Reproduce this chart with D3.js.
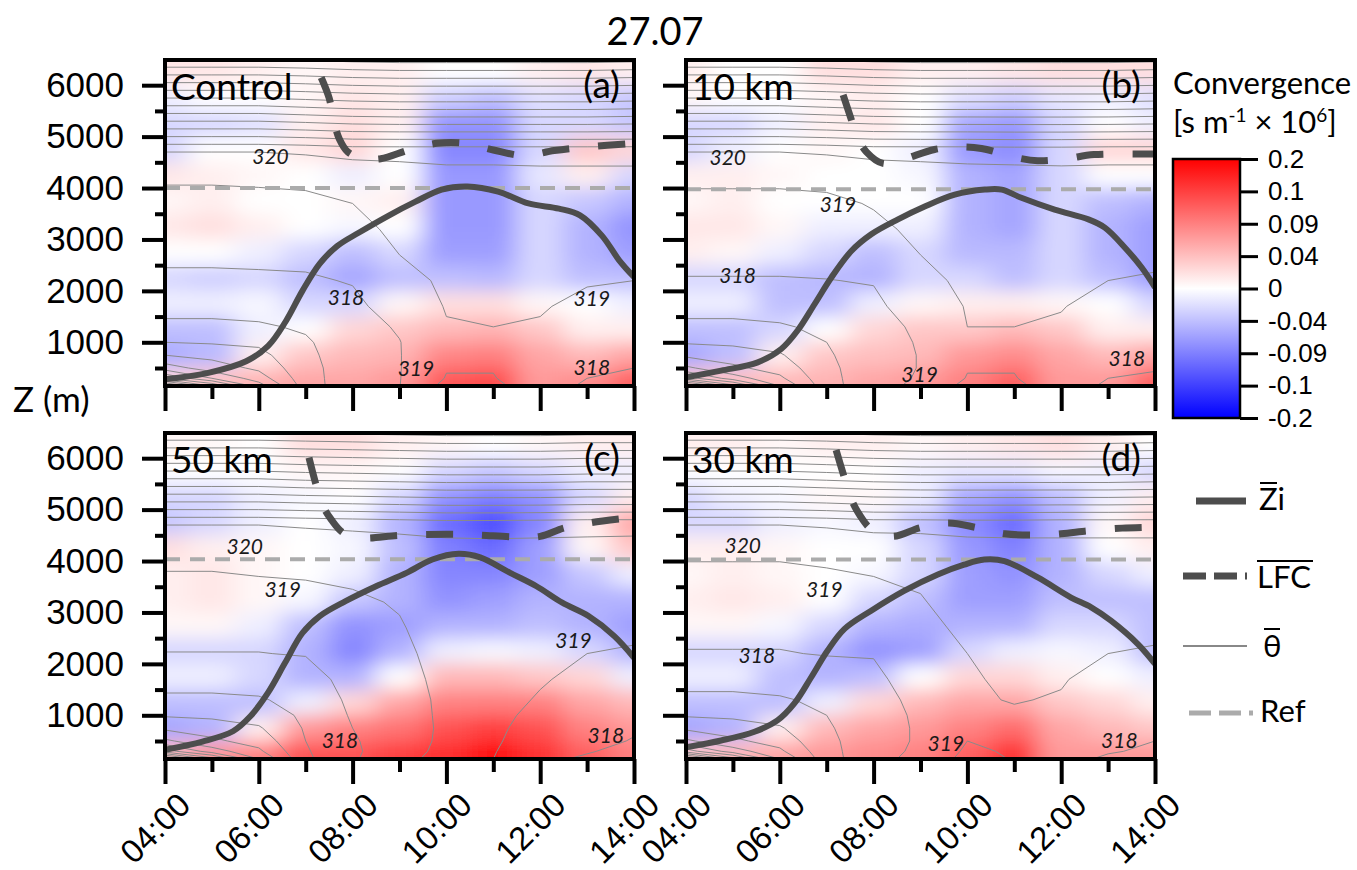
<!DOCTYPE html>
<html>
<head>
<meta charset="utf-8">
<script src="https://cdn.jsdelivr.net/npm/d3@7"></script>
<style>
  body { margin: 0; background: #fff; }
  svg { display: block; }
</style>
</head>
<body>
<svg id="chart" width="1357" height="870"></svg>
<script>
// ---- data ----
const hours = [4, 5, 6, 7, 8, 9, 10, 11, 12, 13, 14];
const xTickHours = [4, 6, 8, 10, 12, 14];
const xMinorHours = [5, 7, 9, 11, 13];
const yMajor = [1000, 2000, 3000, 4000, 5000, 6000];
const yMinor = [500, 1500, 2500, 3500, 4500, 5500];
const zRange = [150, 6490];

const cbarTicks = [-0.2, -0.1, -0.09, -0.04, 0, 0.04, 0.09, 0.1, 0.2];
const cbarLabels = ["-0.2", "-0.1", "-0.09", "-0.04", "0", "0.04", "0.09", "0.1", "0.2"];

const panelNames = ["Control", "10 km", "50 km", "30 km"];
const panelTags = ["(a)", "(b)", "(c)", "(d)"];
const refLevels = [4000, 3975, 4035, 4030];

// convergence, rows = heights (top to bottom), columns = hours
const convHeights = [6250, 5750, 5250, 4750, 4250, 3750, 3250, 2750, 2250, 1750, 1250, 750, 250];
const convControl = [
  [0.015, 0.015, 0.01, 0.005, 0.01, 0.01, 0, 0, 0.01, 0.015, 0.01],
  [-0.01, 0, 0, 0.005, 0.015, 0.01, -0.03, -0.04, -0.02, -0.025, -0.035],
  [-0.025, -0.025, -0.02, 0.01, 0.02, 0.01, -0.075, -0.075, -0.025, -0.025, -0.035],
  [-0.025, 0, 0, 0.015, 0.025, 0, -0.085, -0.085, -0.025, 0.035, 0.025],
  [0.015, 0.01, 0.005, 0, -0.01, 0, -0.07, -0.07, -0.015, 0.01, -0.025],
  [0.005, 0.01, 0, 0, 0.005, 0.01, -0.07, -0.07, -0.025, -0.035, -0.05],
  [0.015, 0.02, 0.01, 0, -0.005, 0, -0.07, -0.07, -0.025, -0.05, -0.075],
  [0, 0, -0.01, -0.025, -0.04, -0.025, -0.065, -0.065, -0.025, -0.05, -0.065],
  [-0.025, -0.03, -0.025, -0.04, -0.06, -0.04, -0.04, -0.045, -0.025, -0.04, -0.04],
  [-0.01, -0.01, -0.005, -0.025, -0.025, 0.005, 0.02, 0.02, 0.005, 0, -0.01],
  [-0.04, -0.04, -0.01, 0, 0.025, 0.035, 0.045, 0.05, 0.035, 0.01, 0.01],
  [-0.055, -0.045, 0.01, 0.035, 0.045, 0.05, 0.085, 0.09, 0.06, 0.045, 0.06],
  [0.025, 0.035, 0.05, 0.06, 0.06, 0.07, 0.096, 0.098, 0.07, 0.08, 0.095]
];
const convTen = [
  [0.01, 0, 0, 0.02, 0.02, 0.01, 0.01, 0.015, 0.02, 0.02, 0.02],
  [0.005, 0, 0, 0.005, 0.01, 0, -0.02, -0.03, -0.015, -0.01, -0.02],
  [-0.025, -0.025, -0.01, 0.01, 0.015, 0, -0.06, -0.07, -0.025, 0, -0.01],
  [-0.025, -0.01, 0, 0.005, 0, -0.01, -0.07, -0.08, -0.025, 0.025, 0.025],
  [0.01, 0.01, 0.005, 0, 0, -0.005, -0.05, -0.06, -0.025, 0, 0],
  [0.005, 0.01, 0, 0, 0, 0, -0.05, -0.06, -0.025, -0.04, -0.05],
  [0.015, 0.015, 0.005, -0.01, -0.01, -0.01, -0.05, -0.06, -0.025, -0.05, -0.065],
  [0.01, 0.005, -0.01, -0.025, -0.04, -0.025, -0.045, -0.045, -0.025, -0.05, -0.065],
  [-0.025, -0.025, -0.04, -0.045, -0.05, -0.025, -0.025, -0.04, -0.025, -0.04, -0.065],
  [-0.01, -0.01, -0.04, -0.04, -0.01, 0.005, 0.01, 0.01, 0.005, 0, -0.025],
  [-0.04, -0.04, -0.025, 0, 0.025, 0.035, 0.035, 0.045, 0.035, 0.01, 0.01],
  [-0.06, -0.04, 0.01, 0.035, 0.04, 0.045, 0.07, 0.08, 0.06, 0.045, 0.06],
  [0.035, 0.04, 0.045, 0.05, 0.06, 0.07, 0.09, 0.095, 0.07, 0.07, 0.095]
];
const convFifty = [
  [0.005, 0.005, 0, 0.02, 0.02, 0.01, 0.005, 0, 0.005, 0.01, 0.01],
  [0, 0, 0, 0.005, 0.005, 0, -0.025, -0.035, -0.025, -0.01, -0.01],
  [-0.025, -0.025, -0.01, -0.005, 0, -0.025, -0.075, -0.09, -0.075, -0.025, 0.01],
  [-0.035, -0.025, -0.01, 0, -0.01, -0.05, -0.093, -0.098, -0.085, 0.01, 0.06],
  [0.02, 0.01, 0.005, 0, -0.005, -0.04, -0.09, -0.093, -0.065, 0.005, 0.035],
  [0.01, 0.015, 0.005, 0, -0.01, -0.05, -0.085, -0.085, -0.065, -0.035, -0.01],
  [0.01, 0.015, 0.005, -0.005, -0.035, -0.05, -0.075, -0.065, -0.05, -0.05, -0.05],
  [0.005, 0.005, -0.01, -0.04, -0.075, -0.065, -0.05, -0.05, -0.04, -0.05, -0.065],
  [-0.025, -0.025, -0.025, -0.05, -0.085, -0.05, -0.01, -0.005, -0.01, -0.025, -0.05],
  [-0.01, -0.01, -0.025, -0.05, -0.05, 0, 0.045, 0.045, 0.035, 0.025, -0.01],
  [-0.04, -0.04, -0.04, -0.01, 0.025, 0.06, 0.088, 0.09, 0.088, 0.06, 0.045],
  [-0.06, -0.05, 0.01, 0.07, 0.088, 0.092, 0.097, 0.1, 0.097, 0.088, 0.07],
  [0.045, 0.07, 0.088, 0.097, 0.097, 0.1, 0.13, 0.18, 0.12, 0.095, 0.09]
];
const convThirty = [
  [0.01, 0.01, 0.005, 0.01, 0.01, 0.005, 0.01, 0.015, 0.02, 0.01, 0],
  [0, 0, 0, 0, 0, -0.01, -0.015, -0.015, -0.005, -0.01, -0.025],
  [-0.025, -0.01, -0.005, 0.005, 0.005, -0.01, -0.06, -0.075, -0.04, -0.01, 0.01],
  [-0.025, -0.025, -0.01, -0.005, -0.01, -0.04, -0.08, -0.093, -0.05, 0.005, 0.025],
  [0.01, 0.01, 0.005, 0, 0, -0.025, -0.07, -0.088, -0.05, 0, 0.01],
  [0.005, 0.01, 0.005, 0, -0.005, -0.025, -0.065, -0.075, -0.05, -0.025, -0.01],
  [0.01, 0.015, 0.01, 0, -0.025, -0.04, -0.065, -0.065, -0.04, -0.04, -0.04],
  [0.005, 0.005, -0.005, -0.025, -0.05, -0.055, -0.05, -0.05, -0.025, -0.025, -0.04],
  [-0.025, -0.025, -0.025, -0.05, -0.075, -0.065, -0.025, -0.01, -0.005, -0.01, -0.04],
  [-0.01, -0.01, -0.04, -0.05, -0.04, 0, 0.025, 0.025, 0.01, 0, -0.01],
  [-0.04, -0.04, -0.04, -0.01, 0.025, 0.045, 0.06, 0.06, 0.035, 0.025, 0.01],
  [-0.06, -0.05, 0.01, 0.045, 0.06, 0.07, 0.088, 0.093, 0.06, 0.045, 0.035],
  [0.035, 0.045, 0.06, 0.07, 0.08, 0.088, 0.095, 0.12, 0.07, 0.07, 0.07]
];

// potential temperature (K), rows = heights (top to bottom), columns = hours
const thetaHeights = [6500, 5600, 4700, 4200, 3700, 3200, 2700, 2200, 1700, 1300, 1000, 750, 500, 300, 150];
const thetaLevels = [305, 306, 307, 308, 309, 310, 311, 312, 313, 314, 315, 316, 317, 318, 319, 320,
  321, 322, 323, 324, 325, 326, 327, 328, 329, 330, 331, 332, 333, 334];
const thetaControl = [
  [332.0, 332.0, 332.0, 332.1, 332.3, 332.4, 332.4, 332.4, 332.4, 332.4, 332.3],
  [326.0, 326.0, 326.0, 326.2, 326.4, 326.5, 326.5, 326.5, 326.5, 326.5, 326.4],
  [320.0, 320.0, 320.0, 320.1, 320.3, 320.3, 320.3, 320.3, 320.3, 320.3, 320.3],
  [319.1, 319.1, 319.15, 319.2, 319.3, 319.5, 319.7, 319.7, 319.75, 319.75, 319.75],
  [318.75, 318.75, 318.75, 318.8, 319.0, 319.3, 319.45, 319.45, 319.5, 319.5, 319.45],
  [318.45, 318.45, 318.45, 318.5, 318.8, 319.15, 319.35, 319.35, 319.4, 319.35, 319.3],
  [318.2, 318.2, 318.2, 318.2, 318.5, 319.0, 319.25, 319.25, 319.3, 319.2, 319.15],
  [317.8, 317.8, 317.85, 317.9, 318.05, 318.7, 319.15, 319.15, 319.2, 319.05, 319.0],
  [317.3, 317.3, 317.3, 317.4, 317.8, 318.4, 319.05, 319.05, 319.05, 318.85, 318.75],
  [316.8, 316.8, 316.9, 317.1, 317.6, 318.1, 318.95, 319.0, 318.95, 318.7, 318.55],
  [316.0, 316.1, 316.2, 316.9, 317.5, 317.97, 318.9, 318.95, 318.9, 318.55, 318.4],
  [315.0, 315.3, 315.7, 316.8, 317.5, 317.96, 318.9, 318.92, 318.8, 318.4, 318.2],
  [313.5, 314.5, 315.2, 316.7, 317.5, 317.96, 318.95, 318.95, 318.6, 318.2, 318.0],
  [311.0, 313.0, 314.5, 316.6, 317.6, 317.97, 319.05, 319.05, 318.4, 318.0, 317.9],
  [306.0, 310.0, 313.5, 316.5, 317.7, 317.98, 319.3, 319.3, 318.3, 317.9, 317.8]
];
const thetaTen = [
  [332.0, 332.0, 332.0, 332.1, 332.3, 332.4, 332.4, 332.4, 332.4, 332.4, 332.3],
  [326.0, 326.0, 326.0, 326.2, 326.4, 326.5, 326.5, 326.5, 326.5, 326.5, 326.4],
  [320.0, 320.0, 320.0, 320.1, 320.3, 320.3, 320.3, 320.35, 320.35, 320.3, 320.3],
  [319.15, 319.15, 319.15, 319.2, 319.3, 319.5, 319.65, 319.65, 319.7, 319.7, 319.7],
  [318.8, 318.8, 318.8, 318.85, 319.05, 319.3, 319.45, 319.45, 319.45, 319.45, 319.4],
  [318.5, 318.5, 318.5, 318.6, 318.85, 319.15, 319.35, 319.35, 319.35, 319.3, 319.25],
  [318.25, 318.25, 318.25, 318.3, 318.6, 319.0, 319.25, 319.25, 319.25, 319.15, 319.1],
  [317.95, 317.95, 317.95, 317.98, 318.05, 318.8, 319.15, 319.15, 319.15, 319.0, 318.95],
  [317.3, 317.3, 317.4, 317.5, 317.8, 318.5, 319.05, 319.05, 319.02, 318.85, 318.75],
  [316.8, 316.8, 316.9, 317.2, 317.6, 318.2, 319.0, 319.0, 318.95, 318.7, 318.55],
  [316.1, 316.2, 316.4, 317.0, 317.5, 318.1, 318.9, 318.9, 318.9, 318.55, 318.4],
  [315.2, 315.5, 315.9, 316.9, 317.5, 318.05, 318.9, 318.9, 318.8, 318.4, 318.25],
  [313.8, 314.8, 315.4, 316.8, 317.5, 318.05, 318.95, 318.95, 318.6, 318.2, 318.05],
  [311.5, 313.5, 314.8, 316.7, 317.6, 318.1, 319.05, 319.05, 318.4, 318.0, 317.9],
  [306.5, 310.5, 314.0, 316.6, 317.7, 318.2, 319.3, 319.3, 318.3, 317.9, 317.8]
];
const thetaFifty = [
  [332.0, 332.0, 332.0, 332.1, 332.2, 332.3, 332.4, 332.4, 332.4, 332.3, 332.3],
  [326.0, 326.0, 326.0, 326.2, 326.3, 326.4, 326.5, 326.5, 326.5, 326.4, 326.4],
  [320.0, 320.0, 320.0, 320.1, 320.2, 320.3, 320.4, 320.4, 320.35, 320.3, 320.3],
  [319.2, 319.2, 319.25, 319.3, 319.35, 319.45, 319.6, 319.65, 319.65, 319.65, 319.6],
  [318.95, 318.95, 319.0, 319.05, 319.1, 319.2, 319.45, 319.5, 319.45, 319.45, 319.4],
  [318.6, 318.6, 318.6, 318.7, 318.9, 319.05, 319.35, 319.4, 319.35, 319.3, 319.25],
  [318.3, 318.3, 318.3, 318.35, 318.7, 318.95, 319.3, 319.35, 319.25, 319.15, 319.1],
  [317.98, 317.98, 317.98, 318.05, 318.5, 318.85, 319.25, 319.3, 319.15, 319.0, 318.95],
  [317.4, 317.4, 317.45, 317.6, 318.35, 318.75, 319.2, 319.25, 319.05, 318.85, 318.65],
  [316.8, 316.8, 316.9, 317.35, 318.2, 318.7, 319.15, 319.2, 318.95, 318.75, 318.5],
  [316.1, 316.2, 316.4, 317.2, 318.1, 318.65, 319.15, 319.15, 318.85, 318.6, 318.3],
  [315.2, 315.5, 315.9, 317.1, 318.0, 318.6, 319.15, 319.12, 318.75, 318.45, 318.1],
  [313.8, 314.8, 315.4, 317.0, 317.9, 318.55, 319.2, 319.1, 318.6, 318.25, 317.95],
  [311.5, 313.5, 314.8, 316.9, 317.85, 318.55, 319.3, 319.05, 318.4, 318.05, 317.8],
  [306.5, 310.5, 314.0, 316.8, 317.9, 318.6, 319.5, 319.0, 318.15, 317.9, 317.7]
];
const thetaThirty = [
  [332.0, 332.0, 332.0, 332.1, 332.3, 332.4, 332.4, 332.4, 332.4, 332.4, 332.3],
  [326.0, 326.0, 326.0, 326.2, 326.4, 326.5, 326.5, 326.5, 326.5, 326.5, 326.4],
  [320.0, 320.0, 320.0, 320.1, 320.3, 320.3, 320.35, 320.35, 320.3, 320.3, 320.3],
  [319.15, 319.15, 319.15, 319.2, 319.3, 319.4, 319.6, 319.65, 319.7, 319.7, 319.7],
  [318.8, 318.8, 318.8, 318.9, 319.0, 319.1, 319.4, 319.45, 319.45, 319.45, 319.4],
  [318.5, 318.5, 318.5, 318.6, 318.8, 318.95, 319.3, 319.35, 319.35, 319.3, 319.25],
  [318.25, 318.25, 318.25, 318.3, 318.55, 318.8, 319.15, 319.25, 319.25, 319.15, 319.1],
  [317.95, 317.95, 317.95, 318.05, 318.05, 318.6, 319.0, 319.15, 319.15, 319.0, 318.95],
  [317.3, 317.3, 317.4, 317.5, 317.8, 318.45, 318.97, 319.05, 319.03, 318.85, 318.7],
  [316.8, 316.8, 316.9, 317.2, 317.6, 318.3, 318.95, 319.02, 318.97, 318.7, 318.5],
  [316.1, 316.2, 316.4, 317.0, 317.5, 318.2, 318.9, 318.95, 318.85, 318.55, 318.35],
  [315.2, 315.5, 315.9, 316.9, 317.5, 318.15, 318.9, 318.92, 318.75, 318.4, 318.15],
  [313.8, 314.8, 315.4, 316.8, 317.5, 318.15, 319.0, 318.9, 318.6, 318.2, 318.0],
  [311.5, 313.5, 314.8, 316.7, 317.6, 318.2, 319.15, 318.9, 318.4, 318.05, 317.9],
  [306.5, 310.5, 314.0, 316.6, 317.7, 318.3, 319.3, 318.95, 318.2, 317.9, 317.8]
];

// boundary layer height Zi [hour, m]
const ziControl = [[4, 280], [4.9, 400], [5.73, 630], [6.2, 930], [6.57, 1400], [6.93, 2000], [7.3, 2530],
  [7.67, 2870], [8.13, 3130], [8.78, 3470], [9.33, 3730], [9.9, 3970], [10.45, 4030], [11.1, 3930],
  [11.75, 3700], [12.4, 3600], [12.85, 3470], [13.32, 3070], [13.68, 2600], [14, 2270]];
const ziTen = [[4, 320], [4.75, 450], [5.53, 610], [6.03, 870], [6.38, 1230], [6.74, 1740], [7.1, 2260],
  [7.52, 2770], [7.95, 3100], [8.52, 3390], [9.09, 3640], [9.73, 3870], [10.37, 3970], [10.73, 3970],
  [11.15, 3810], [11.86, 3580], [12.58, 3390], [12.93, 3230], [13.36, 2840], [13.72, 2450], [14, 2070]];
const ziFifty = [[4, 330], [4.8, 490], [5.45, 690], [5.82, 980], [6.19, 1430], [6.56, 2020], [6.93, 2600],
  [7.3, 2930], [7.85, 3220], [8.5, 3510], [9.15, 3770], [9.7, 4030], [10.26, 4140], [10.72, 4070],
  [11.36, 3770], [11.92, 3510], [12.47, 3190], [13.03, 2930], [13.58, 2540], [14, 2120]];
const ziThirty = [[4, 380], [4.75, 510], [5.46, 680], [5.95, 900], [6.31, 1230], [6.67, 1740], [7.02, 2260],
  [7.38, 2680], [7.94, 3030], [8.65, 3420], [9.37, 3740], [9.93, 3930], [10.36, 4030], [10.79, 4000],
  [11.5, 3680], [12.21, 3290], [12.64, 3100], [13.06, 2840], [13.63, 2390], [14, 2000]];

// level of free convection [hour, m]
const lfcControl = [[7.33, 6150], [7.5, 5750], [7.6, 5300], [7.72, 4950], [7.9, 4700], [8.2, 4580], [8.6, 4570],
  [9.2, 4740], [9.8, 4870], [10.4, 4870], [11.0, 4740], [11.65, 4630], [12.3, 4730], [13.0, 4800], [14, 4870]];
const lfcTen = [[7.35, 5810], [7.5, 5400], [7.65, 5000], [7.85, 4700], [8.2, 4480], [8.6, 4550], [9.3, 4750],
  [9.8, 4800], [10.3, 4770], [11.0, 4600], [11.5, 4530], [12.1, 4570], [12.7, 4650], [14, 4660]];
const lfcFifty = [[7.07, 6010], [7.2, 5550], [7.35, 5100], [7.55, 4800], [7.8, 4550], [8.2, 4450], [9.0, 4500],
  [10.0, 4520], [10.6, 4510], [11.5, 4470], [12.0, 4480], [12.5, 4640], [13.1, 4750], [14, 4850]];
const lfcThirty = [[7.2, 6160], [7.35, 5700], [7.5, 5250], [7.7, 4900], [7.95, 4620], [8.4, 4480], [9.0, 4650],
  [9.6, 4740], [10.2, 4650], [10.8, 4530], [11.7, 4510], [12.5, 4580], [13.3, 4640], [14, 4660]];

// contour labels [hour, m, text]
const labelsControl = [[6.25, 4610, "320"], [7.86, 1870, "318"], [13.1, 1850, "319"], [9.35, 480, "319"], [13.1, 500, "318"]];
const labelsTen = [[4.89, 4594, "320"], [7.24, 3677, "319"], [5.1, 2290, "318"], [8.98, 380, "319"], [13.4, 677, "318"]];
const labelsFifty = [[5.7, 4273, "320"], [6.51, 3448, "319"], [12.71, 2442, "319"], [7.73, 513, "318"], [13.4, 604, "318"]];
const labelsThirty = [[5.21, 4290, "320"], [6.95, 3452, "319"], [5.51, 2161, "318"], [9.54, 452, "319"], [13.24, 516, "318"]];

// ---- layout ----
const pw = 469, ph = 326;
const panelPos = [[165, 60], [686, 60], [165, 433], [686, 433]];
const TEXT_FONT = "Lato, 'Noto Sans', 'DejaVu Sans', sans-serif";
const TICK_FONT = "'Liberation Sans', Arial, sans-serif";
const darkLine = "#4d4d4d";

const panels = [
  { conv: convControl, theta: thetaControl, zi: ziControl, lfc: lfcControl, labels: labelsControl },
  { conv: convTen, theta: thetaTen, zi: ziTen, lfc: lfcTen, labels: labelsTen },
  { conv: convFifty, theta: thetaFifty, zi: ziFifty, lfc: lfcFifty, labels: labelsFifty },
  { conv: convThirty, theta: thetaThirty, zi: ziThirty, lfc: lfcThirty, labels: labelsThirty }
];

const svg = d3.select("#chart");
const defs = svg.append("defs");
defs.append("filter").attr("id", "soft")
    .attr("x", "-15%").attr("y", "-15%").attr("width", "130%").attr("height", "130%")
  .append("feGaussianBlur").attr("stdDeviation", "13 9");

const x = d3.scaleLinear().domain([hours[0], hours[hours.length - 1]]).range([0, pw]);
const y = d3.scaleLinear().domain(zRange).range([ph, 0]);

// colour: evenly spaced colourbar ticks, blue - white - red
const cbarPos = d3.scaleLinear().domain(cbarTicks)
    .range(cbarTicks.map((d, i) => i / (cbarTicks.length - 1))).clamp(true);
const cbarRamp = d3.scaleLinear().domain([0, 0.5, 1]).range(["#0000ff", "#ffffff", "#ff0000"]);
const convColor = v => cbarRamp(cbarPos(v));

// contour grid index -> data
const nT = hours.length, nZ = thetaHeights.length;
const tIdx = d3.scaleLinear().domain([0.5, nT - 0.5]).range([hours[0], hours[nT - 1]]);
const zIdx = d3.scaleLinear().domain(thetaHeights.map((d, j) => j + 0.5)).range(thetaHeights);
const ringLine = d3.line().x(p => x(tIdx(p[0]))).y(p => y(zIdx(p[1])));
const dataLine = d3.line().x(d => x(d[0])).y(d => y(d[1])).curve(d3.curveCatmullRom.alpha(0.5));
const contourGen = d3.contours().size([nT, nZ]).thresholds(thetaLevels);

const hh = h => (h < 10 ? "0" : "") + h + ":00";

panels.forEach((p, k) => {
  const [px, py] = panelPos[k];
  const g = svg.append("g").attr("transform", `translate(${px},${py})`);
  defs.append("clipPath").attr("id", "clip" + k)
    .append("rect").attr("width", pw).attr("height", ph);
  const inner = g.append("g").attr("clip-path", `url(#clip${k})`);

  // convergence shading
  const hm = inner.append("g").attr("filter", "url(#soft)");
  const halfZ = (convHeights[0] - convHeights[1]) / 2;
  p.conv.forEach((row, j) => row.forEach((v, i) => {
    let x0 = x(hours[i] - 0.5), x1 = x(hours[i] + 0.5);
    let y0 = y(convHeights[j] + halfZ), y1 = y(convHeights[j] - halfZ);
    if (i === 0) x0 -= 40;
    if (i === row.length - 1) x1 += 40;
    if (j === 0) y0 -= 40;
    if (j === p.conv.length - 1) y1 += 40;
    hm.append("rect")
      .attr("x", x0).attr("y", y0)
      .attr("width", x1 - x0 + 0.6).attr("height", y1 - y0 + 0.6)
      .attr("fill", convColor(v));
  }));

  // theta contours
  const flat = [].concat(...p.theta);
  const cg = inner.append("g").attr("fill", "none").attr("stroke", "#8a8a8a").attr("stroke-width", 1);
  contourGen(flat).forEach(c => {
    c.coordinates.forEach(poly => poly.forEach(ring => {
      cg.append("path").attr("d", ringLine(ring));
    }));
  });

  // reference height
  inner.append("line")
    .attr("x1", x(hours[0])).attr("x2", x(hours[nT - 1]))
    .attr("y1", y(refLevels[k])).attr("y2", y(refLevels[k]))
    .attr("stroke", "#ababab").attr("stroke-width", 4).attr("stroke-dasharray", "15,10");

  // Zi and LFC
  inner.append("path").datum(p.zi).attr("d", dataLine)
    .attr("fill", "none").attr("stroke", darkLine).attr("stroke-width", 6);
  inner.append("path").datum(p.lfc).attr("d", dataLine)
    .attr("fill", "none").attr("stroke", darkLine).attr("stroke-width", 7)
    .attr("stroke-dasharray", "27,29");

  // contour labels
  g.append("g").selectAll("text").data(p.labels).join("text")
    .attr("x", d => x(d[0])).attr("y", d => y(d[1]))
    .attr("text-anchor", "middle").attr("dy", "0.35em")
    .attr("font-family", TEXT_FONT).attr("font-style", "italic").attr("font-size", 21)
    .attr("fill", "#1a1a1a").text(d => d[2]);

  // panel names
  g.append("text").attr("x", 6).attr("y", 40)
    .attr("font-family", TEXT_FONT).attr("font-size", 37).text(panelNames[k]);
  g.append("text").attr("x", pw - 14).attr("y", 38).attr("text-anchor", "end")
    .attr("font-family", TEXT_FONT).attr("font-size", 37).text(panelTags[k]);

  // axes
  const left = k % 2 === 0, bottom = k >= 2;
  const yAx = g.append("g")
    .call(d3.axisLeft(y).tickValues(yMajor).tickSize(23).tickPadding(18)
      .tickFormat(left ? d3.format("d") : ""));
  yAx.attr("font-family", TICK_FONT).attr("font-size", 35);
  const yMin = g.append("g")
    .call(d3.axisLeft(y).tickValues(yMinor).tickSize(10).tickFormat(""));
  const xAx = g.append("g").attr("transform", `translate(0,${ph})`)
    .call(d3.axisBottom(x).tickValues(xTickHours).tickSize(25).tickFormat(bottom ? hh : ""));
  xAx.attr("font-family", TICK_FONT).attr("font-size", 33);
  xAx.selectAll("text")
    .attr("x", 0).attr("y", 0).attr("dy", 0)
    .attr("text-anchor", "end")
    .attr("transform", "translate(27,48) rotate(-45)");
  const xMin = g.append("g").attr("transform", `translate(0,${ph})`)
    .call(d3.axisBottom(x).tickValues(xMinorHours).tickSize(13).tickFormat(""));
  [yAx, yMin, xAx, xMin].forEach(a => {
    a.select(".domain").remove();
    a.selectAll("line").attr("stroke", "#000").attr("stroke-width", 4);
    a.selectAll("text").attr("fill", "#000");
  });

  g.append("rect").attr("width", pw).attr("height", ph)
    .attr("fill", "none").attr("stroke", "#000").attr("stroke-width", 4);
});

// titles
svg.append("text").attr("x", 655).attr("y", 45).attr("text-anchor", "middle")
  .attr("font-family", TEXT_FONT).attr("font-size", 38).text("27.07");
svg.append("text").attr("x", 13).attr("y", 412)
  .attr("font-family", TEXT_FONT).attr("font-size", 35).text("Z (m)");

// colourbar
const cbX = 1173, cbW = 67, cbTop = 159, cbBot = 418;
const grad = defs.append("linearGradient").attr("id", "cbgrad")
  .attr("x1", 0).attr("y1", 1).attr("x2", 0).attr("y2", 0);
[0, 0.25, 0.5, 0.75, 1].forEach(o => grad.append("stop").attr("offset", o).attr("stop-color", cbarRamp(o)));
svg.append("rect").attr("x", cbX).attr("y", cbTop).attr("width", cbW).attr("height", cbBot - cbTop)
  .attr("fill", "url(#cbgrad)").attr("stroke", "#000").attr("stroke-width", 2.5);
const cbScale = d3.scalePoint().domain(cbarLabels).range([cbBot, cbTop]);
const cbAx = svg.append("g").attr("transform", `translate(${cbX + cbW},0)`)
  .call(d3.axisRight(cbScale).tickSize(18).tickPadding(10));
cbAx.attr("font-family", TICK_FONT).attr("font-size", 26);
cbAx.select(".domain").remove();
cbAx.selectAll("line").attr("stroke", "#000").attr("stroke-width", 3);
cbAx.selectAll("text").attr("fill", "#000");

svg.append("text").attr("x", cbX).attr("y", 94)
  .attr("font-family", TEXT_FONT).attr("font-size", 31).text("Convergence");
const unit = svg.append("text").attr("x", cbX).attr("y", 133)
  .attr("font-family", TEXT_FONT).attr("font-size", 31);
unit.append("tspan").text("[s m");
unit.append("tspan").attr("font-size", 19).attr("dy", -11).text("-1");
unit.append("tspan").attr("dy", 11).text(" \u00d7 10");
unit.append("tspan").attr("font-size", 19).attr("dy", -11).text("6");
unit.append("tspan").attr("dy", 11).text("]");

// legend
const lg = svg.append("g").attr("font-family", TEXT_FONT).attr("font-size", 31);
lg.append("line").attr("x1", 1196).attr("x2", 1246).attr("y1", 501).attr("y2", 501)
  .attr("stroke", darkLine).attr("stroke-width", 7);
lg.append("text").attr("x", 1259).attr("y", 510).text("Zi");
lg.append("line").attr("x1", 1260).attr("x2", 1277).attr("y1", 483).attr("y2", 483)
  .attr("stroke", "#000").attr("stroke-width", 2);

lg.append("line").attr("x1", 1183).attr("x2", 1247).attr("y1", 576).attr("y2", 576)
  .attr("stroke", darkLine).attr("stroke-width", 7).attr("stroke-dasharray", "23,8");
lg.append("text").attr("x", 1257).attr("y", 588).text("LFC");
lg.append("line").attr("x1", 1257).attr("x2", 1313).attr("y1", 561).attr("y2", 561)
  .attr("stroke", "#000").attr("stroke-width", 2);

lg.append("line").attr("x1", 1183).attr("x2", 1247).attr("y1", 646).attr("y2", 646)
  .attr("stroke", "#888").attr("stroke-width", 2);
lg.append("text").attr("x", 1263).attr("y", 657).text("\u03b8");
lg.append("line").attr("x1", 1264).attr("x2", 1280).attr("y1", 629).attr("y2", 629)
  .attr("stroke", "#000").attr("stroke-width", 2);

lg.append("line").attr("x1", 1189).attr("x2", 1253).attr("y1", 713).attr("y2", 713)
  .attr("stroke", "#ababab").attr("stroke-width", 5).attr("stroke-dasharray", "22,8");
lg.append("text").attr("x", 1260).attr("y", 722).text("Ref");
</script>
</body>
</html>
